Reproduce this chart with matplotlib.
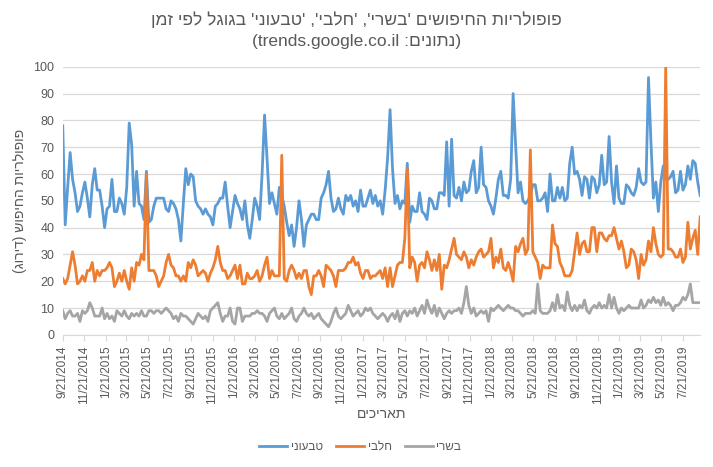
import pandas as pd
import matplotlib
matplotlib.use("Agg")
import matplotlib.pyplot as plt

plt.rcParams['font.family'] = ['Liberation Sans', 'DejaVu Sans']


def heb(s):
    # matplotlib has no bidi: reverse for display and mirror brackets
    swap = {'(': ')', ')': '('}
    return ''.join(swap.get(c, c) for c in reversed(s))


# weekly google trends data, starting 9/21/2014
start = '2014-09-21'
n_weeks = 260

vegan = [78, 41, 55, 68, 58, 53, 46, 48, 53, 57,
         51, 44, 56, 62, 54, 54, 48, 40, 47, 48,
         58, 46, 46, 51, 49, 45, 55, 79, 71, 48,
         61, 49, 48, 43, 61, 42, 43, 48, 51, 51,
         51, 51, 47, 46, 50, 49, 47, 43, 35, 49,
         62, 56, 60, 59, 50, 48, 47, 45, 47, 45,
         44, 41, 48, 49, 51, 51, 57, 48, 40, 46,
         52, 49, 47, 43, 50, 41, 36, 43, 51, 48,
         43, 60, 82, 66, 49, 53, 49, 45, 55, 52,
         48, 42, 37, 41, 33, 40, 50, 43, 33, 41,
         43, 45, 45, 43, 43, 51, 53, 56, 61, 51,
         46, 47, 51, 47, 45, 52, 50, 52, 48, 50,
         46, 54, 48, 48, 51, 54, 49, 52, 48, 50,
         45, 54, 66, 84, 62, 49, 52, 47, 50, 49,
         64, 42, 48, 46, 46, 53, 46, 45, 43, 51,
         50, 47, 47, 53, 53, 52, 72, 48, 73, 52,
         51, 55, 50, 57, 53, 54, 61, 65, 53, 55,
         70, 56, 55, 50, 48, 45, 51, 58, 61, 52,
         52, 51, 58, 90, 71, 53, 57, 50, 49, 50,
         52, 56, 56, 50, 50, 51, 53, 46, 60, 50,
         50, 55, 51, 55, 50, 51, 64, 70, 60, 61,
         58, 52, 59, 58, 51, 59, 58, 53, 56, 67,
         56, 57, 74, 57, 49, 63, 51, 49, 49, 56,
         55, 53, 52, 55, 62, 57, 56, 57, 96, 72,
         51, 57, 46, 57, 63, 58, 58, 59, 61, 53,
         54, 61, 54, 56, 63, 58, 65, 64, 57, 52]

dairy = [21, 19, 21, 26, 31, 26, 19, 20, 22, 20,
         24, 24, 27, 20, 24, 22, 24, 24, 25, 27,
         25, 18, 20, 23, 20, 24, 20, 17, 25, 20,
         27, 26, 30, 28, 60, 24, 24, 24, 22, 18,
         20, 22, 27, 30, 26, 25, 22, 22, 20, 22,
         20, 27, 25, 28, 26, 22, 23, 24, 23, 20,
         23, 25, 28, 33, 27, 24, 24, 21, 22, 24,
         26, 21, 26, 19, 19, 23, 21, 21, 22, 24,
         20, 22, 26, 29, 21, 24, 22, 22, 22, 67,
         21, 20, 24, 26, 24, 21, 23, 21, 24, 24,
         18, 15, 22, 22, 24, 22, 18, 26, 25, 24,
         22, 18, 24, 24, 24, 25, 27, 27, 29, 26,
         27, 23, 21, 24, 24, 21, 22, 22, 23, 24,
         21, 25, 18, 25, 18, 22, 26, 27, 27, 36,
         62, 25, 29, 27, 20, 26, 27, 25, 31, 28,
         24, 28, 24, 30, 17, 26, 25, 28, 32, 36,
         30, 29, 28, 31, 29, 25, 28, 26, 29, 31,
         32, 29, 30, 31, 36, 25, 29, 27, 32, 25,
         24, 27, 24, 20, 33, 31, 34, 36, 30, 32,
         69, 31, 29, 27, 21, 26, 25, 25, 25, 41,
         34, 33, 27, 25, 22, 22, 22, 24, 31, 38,
         30, 34, 35, 31, 31, 40, 40, 31, 38, 38,
         36, 35, 37, 37, 40, 36, 32, 35, 31, 25,
         26, 32, 31, 28, 21, 30, 26, 28, 35, 31,
         40, 34, 30, 29, 30, 100, 32, 32, 31, 29,
         29, 32, 27, 29, 42, 32, 36, 39, 30, 44]

meat = [9, 6, 8, 9, 7, 7, 8, 5, 9, 8,
        9, 12, 10, 7, 7, 7, 10, 6, 8, 6,
        7, 5, 9, 8, 7, 9, 7, 6, 8, 7,
        8, 7, 9, 7, 7, 9, 9, 8, 9, 9,
        8, 9, 10, 9, 8, 6, 7, 5, 8, 7,
        7, 6, 5, 4, 6, 8, 7, 6, 7, 5,
        9, 10, 11, 12, 8, 5, 7, 7, 10, 5,
        4, 10, 10, 5, 7, 7, 7, 8, 8, 9,
        8, 8, 7, 5, 8, 9, 10, 7, 6, 8,
        6, 7, 8, 10, 6, 5, 7, 8, 10, 8,
        7, 8, 6, 7, 8, 6, 5, 4, 3, 5,
        8, 10, 7, 6, 7, 8, 11, 9, 7, 8,
        9, 7, 8, 10, 9, 10, 8, 7, 6, 7,
        8, 7, 5, 7, 8, 6, 9, 5, 8, 9,
        7, 9, 8, 10, 7, 9, 11, 8, 13, 10,
        8, 11, 7, 10, 8, 6, 8, 9, 8, 9,
        9, 10, 8, 12, 18, 11, 8, 10, 7, 8,
        9, 8, 9, 5, 10, 9, 10, 11, 10, 9,
        10, 11, 10, 10, 9, 9, 8, 7, 8, 8,
        8, 9, 8, 19, 9, 8, 8, 8, 9, 12,
        9, 15, 10, 11, 9, 16, 11, 9, 11, 9,
        11, 10, 13, 9, 8, 10, 11, 10, 12, 10,
        11, 10, 15, 10, 14, 10, 8, 10, 9, 10,
        11, 10, 10, 10, 10, 13, 10, 11, 13, 12,
        14, 12, 13, 11, 14, 11, 12, 11, 9, 11,
        11, 12, 14, 13, 15, 19, 12, 12, 12, 12]

names = ['טבעוני', 'חלבי', 'בשרי']
colors = ['#5B9BD5', '#ED7D31', '#A5A5A5']

dates = pd.date_range(start, periods=n_weeks, freq='7D')
tick_dates = [pd.Timestamp('2014-09-21') + pd.DateOffset(months=2 * k) for k in range(30)]

fig = plt.figure(figsize=(7.13, 4.67), dpi=100)
ax = fig.add_axes([0.088, 0.283, 0.894, 0.574])

for vals, name, c in zip([vegan, dairy, meat], names, colors):
    ax.plot(dates, vals, color=c, lw=2, label=heb(name), zorder=3)

ax.set_ylim(0, 100)
ax.set_yticks(range(0, 101, 10))
ax.set_xlim(dates[0], dates[-1])
ax.set_xticks(tick_dates)
ax.set_xticklabels([f"{d.month}/{d.day}/{d.year}" for d in tick_dates], rotation=90)

ax.grid(axis='y', color='#d9d9d9', lw=0.9, zorder=0)
for s in ['top', 'right', 'left']:
    ax.spines[s].set_visible(False)
ax.spines['bottom'].set_color('#d9d9d9')
ax.tick_params(axis='y', length=0, labelsize=9, labelcolor='#595959', pad=6)
ax.tick_params(axis='x', length=4, color='#d9d9d9', labelsize=8.5, labelcolor='#595959')

fig.text(0.5, 0.958, heb("פופולריות החיפושים 'בשרי', 'חלבי', 'טבעוני' בגוגל לפי זמן"),
         ha='center', va='center', fontsize=12.5, color='#595959')
fig.text(0.5, 0.912, "(trends.google.co.il :" + heb("נתונים") + ")",
         ha='center', va='center', fontsize=12.5, color='#595959')

fig.text(0.028, 0.57, heb("פופולריות החיפוש (דירוג)"), rotation=90,
         ha='center', va='center', fontsize=10, color='#595959')
fig.text(0.535, 0.113, heb("תאריכים"), ha='center', va='center',
         fontsize=10, color='#595959')

leg = fig.legend(loc='center', bbox_to_anchor=(0.505, 0.043), ncol=3, frameon=False,
                 fontsize=8.5, handlelength=2.4, handletextpad=0.3, columnspacing=1.1)
for t in leg.get_texts():
    t.set_color('#595959')

fig.savefig('out.png', dpi=100)
